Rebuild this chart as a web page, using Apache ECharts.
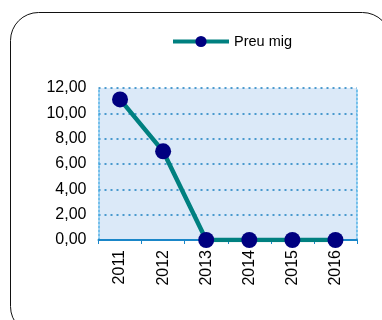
<!DOCTYPE html>
<html><head><meta charset="utf-8">
<script src="https://cdn.jsdelivr.net/npm/echarts@6/dist/echarts.min.js"></script>
<style>html,body{margin:0;padding:0;background:#fff}#c{width:382px;height:320px}</style>
</head><body><div id="c"></div>
<script>
var categories = ['2011','2012','2013','2014','2015','2016'];
var preuMig = [11.1, 7.0, 0, 0, 0, 0];
var seriesName = 'Preu mig';
var yMin = 0, yMax = 12, yStep = 2;

var fmt = function(v){return v.toFixed(2).replace('.',',');};
var chart = echarts.init(document.getElementById('c'), null, {renderer:'canvas'});
chart.setOption({
  animation:false,
  textStyle:{fontFamily:'Liberation Sans, Arial, sans-serif'},
  graphic:[{
    type:'rect', shape:{x:10.5,y:12.5,width:380,height:322,r:28},
    style:{fill:'none',stroke:'#111',lineWidth:1}, z:-10
  }],
  legend:{
    data:[seriesName], left:166, top:29,
    itemWidth:56, itemHeight:14, itemGap:5,
    lineStyle:{width:4},
    textStyle:{fontSize:14.5,color:'#000',fontFamily:'Liberation Sans, Arial, sans-serif'}
  },
  grid:{left:98.5,top:88,width:258.5,height:152,containLabel:false,
    show:true, backgroundColor:'#dbe9f8', borderWidth:0},
  xAxis:{type:'category',data:categories,boundaryGap:true,
    axisLine:{lineStyle:{color:'#1a86c8',width:2}},
    axisTick:{show:true,length:4,inside:false,lineStyle:{color:'#1a86c8',width:1}},
    axisLabel:{rotate:90,fontSize:16,color:'#000',margin:10}},
  yAxis:[{type:'value',min:yMin,max:yMax,interval:yStep,
    axisLine:{show:true,lineStyle:{color:'#4fb0e6',type:[2,2],width:1.5}},
    axisTick:{show:false},
    axisLabel:{fontSize:16,color:'#000',margin:12,formatter:fmt},
    splitLine:{lineStyle:{color:'#1a7fc0',type:[2,4],width:1.5}}},
   {type:'value',min:yMin,max:yMax,interval:yStep,position:'right',
    axisLine:{show:true,lineStyle:{color:'#4fb0e6',type:[2,2],width:1.5}},
    axisTick:{show:false},axisLabel:{show:false},splitLine:{show:false}}],
  series:[{name:seriesName,type:'line',data:preuMig,
    lineStyle:{color:'#008080',width:4.5},
    itemStyle:{color:'#000080'},
    symbol:'circle',symbolSize:16,
    emphasis:{disabled:true}}]
});
</script></body></html>
